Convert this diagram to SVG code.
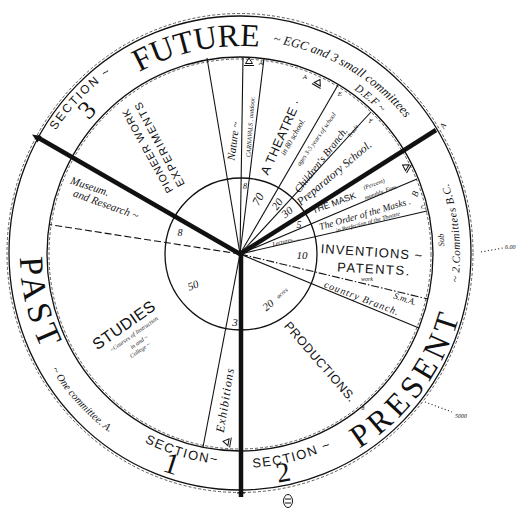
<svg xmlns="http://www.w3.org/2000/svg" width="518" height="512" viewBox="0 0 518 512">
<style>
.ln{stroke:#111;fill:none;stroke-width:1.1}
.th{stroke:#111;stroke-width:4.5;fill:none}
.rim{stroke:#111;fill:none;stroke-width:1.3}
.dash{stroke:#333;fill:none;stroke-width:0.8;stroke-dasharray:3 2}
.cap{font-family:"Liberation Sans",Arial,sans-serif;fill:#111}
.big{font-family:"Liberation Serif","Times New Roman",serif;fill:#111}
.hand{font-family:"Liberation Serif","Times New Roman",serif;font-style:italic;fill:#111}
.c{text-anchor:middle;dominant-baseline:central}
.sym{stroke:#111;fill:none;stroke-width:1}
</style>
<defs>
<path id="pSec3" d="M51.7,136.4 A222,222 0 0 1 129,61.7"/>
<path id="pFuture" d="M139.2,72.1 A208,208 0 0 1 265.4,47.6"/>
<path id="pEGC" d="M266.1,41.6 A214,214 0 0 1 417.4,134.3"/>
<path id="pDEF" d="M348.9,86.3 A200,200 0 0 1 393.2,125.4"/>
<path id="pPast" d="M20,250.2 A220,220 0 0 0 53.4,370.6"/>
<path id="pOne" d="M48.6,364.5 A221,221 0 0 0 136.2,449.1"/>
<path id="pSec1" d="M140.9,440.3 A211,211 0 0 0 240,465"/>
<path id="pSec2" d="M243.7,468 A214,214 0 0 0 340.5,443"/>
<path id="pPresent" d="M354,451.5 A228,228 0 0 0 465.8,285.7"/>
<path id="pSub" d="M457.3,288.4 A220,220 0 0 0 436,154.1"/>
<g id="tri"><path class="sym" d="M-3.5,1.5 L0,-4 L3.5,1.5 Z M-5,3.5 H5"/></g>
</defs>
<rect width="518" height="512" fill="#fff"/>

<g id="rings">
<ellipse class="rim" cx="240" cy="253" rx="231" ry="237"/>
<ellipse class="dash" cx="240" cy="253" rx="233" ry="239.5"/>
<ellipse class="rim" cx="240" cy="254" rx="193" ry="197"/>
<ellipse class="dash" cx="240" cy="254" rx="191" ry="195"/>
<circle class="rim" cx="241" cy="254" r="76"/>
</g>

<g id="connectors">
<line class="ln" x1="240" y1="254" x2="207" y2="58"/>
<line class="ln" x1="240" y1="254" x2="243" y2="57"/>
<line class="ln" x1="240" y1="254" x2="264" y2="58.5"/>
<line class="ln" x1="240" y1="254" x2="338" y2="85"/>
<line class="ln" x1="240" y1="254" x2="371" y2="112"/>
<line class="ln" x1="240" y1="254" x2="417" y2="179"/>
<line class="ln" x1="240" y1="254" x2="427" y2="211"/>
<line class="ln" x1="240" y1="254" x2="428" y2="299" stroke-dasharray="8 2 1.5 2"/>
<line class="ln" x1="240" y1="254" x2="419" y2="328"/>
<line class="ln" x1="240" y1="254" x2="203" y2="447"/>
<line class="ln" x1="240" y1="254" x2="49" y2="224.5" stroke-dasharray="7 3"/>
<line class="th" x1="240" y1="254" x2="37" y2="137"/>
<path d="M32,134.5 L41.5,136 L37.5,142.5 Z" fill="#111"/>
<line class="th" x1="240" y1="254" x2="436" y2="130"/>
<line class="th" x1="241" y1="254" x2="241" y2="497"/>
<line class="ln" x1="237" y1="493" x2="245" y2="493"/>
<line class="ln" x1="481" y1="252" x2="503" y2="248" stroke-dasharray="1 2.5"/>
<line class="ln" x1="425" y1="402" x2="452" y2="412" stroke-dasharray="1 2.5"/>
</g>

<g id="future">
<text class="cap" font-size="12" letter-spacing="2"><textPath href="#pSec3" startOffset="7">SECTION ~</textPath></text>
<text class="big" font-size="32"><textPath href="#pFuture" startOffset="0">FUTURE</textPath></text>
<text class="hand" font-size="12.5"><textPath href="#pEGC" startOffset="7">~ EGC and 3 small committees</textPath></text>
<text class="hand" font-size="11"><textPath href="#pDEF" startOffset="6">D.E.F ~</textPath></text>
<text class="big c" font-size="26" transform="translate(87,110) rotate(-46)">3</text>
<text class="hand c" font-size="8" transform="translate(443,126) rotate(-60)">A</text>
</g>

<g id="past">
<text class="big" font-size="34" letter-spacing="5"><textPath href="#pPast" startOffset="7">PAST</textPath></text>
<text class="hand" font-size="10.5"><textPath href="#pOne" startOffset="6">~ One committee. A.</textPath></text>
<text class="cap" font-size="13" letter-spacing="1.5"><textPath href="#pSec1" startOffset="4">SECTION~</textPath></text>
<text class="big c" font-size="30" transform="translate(172,463) rotate(18)">1</text>
</g>

<g id="present">
<text class="cap" font-size="13" letter-spacing="1.5"><textPath href="#pSec2" startOffset="9">SECTION ~</textPath></text>
<text class="big c" font-size="28" transform="translate(283,472) rotate(-11)">2</text>
<text class="big" font-size="32" letter-spacing="5"><textPath href="#pPresent" startOffset="6">PRESENT</textPath></text>
<text class="hand" font-size="11" letter-spacing="0.5"><textPath href="#pSub" startOffset="6">~ 2.Committees  B.C.</textPath></text>
<text class="hand c" font-size="8.5" transform="translate(441,240) rotate(-93)">Sub</text>
</g>

<g id="pioneer">
<text class="cap c" font-size="11" letter-spacing="1.5" transform="translate(159,144) rotate(-118)">EXPERIMENTS</text>
<text class="cap c" font-size="10.5" letter-spacing="1" transform="translate(147,151) rotate(-119)">PIONEER WORK</text>
</g>

<g id="museum">
<text class="hand c" font-size="11" transform="translate(90,186) rotate(18)">Museum.</text>
<text class="hand c" font-size="11" transform="translate(106,204) rotate(20)">and Research ~</text>
<text class="hand c" font-size="10" x="180" y="232">8</text>
</g>

<g id="studies">
<text class="cap c" font-size="16" letter-spacing="0.5" transform="translate(124,325) rotate(-35)">STUDIES</text>
<text class="hand c" font-size="6" transform="translate(134,334) rotate(-35)">~Courses of Instruction</text>
<text class="hand c" font-size="6" transform="translate(139,342) rotate(-35)">in and ~</text>
<text class="hand c" font-size="6" transform="translate(140,350) rotate(-35)">College ~</text>
<text class="hand c" font-size="11" transform="translate(193,285) rotate(-20)">50</text>
</g>

<g id="exhibitions">
<text class="hand c" font-size="12" letter-spacing="1" transform="translate(225,400) rotate(-81)">Exhibitions</text>
<use href="#tri" transform="translate(227,442) rotate(-80)"/>
<text class="hand c" font-size="11" x="235" y="322">3</text>
</g>

<g id="nature">
<text class="hand c" font-size="11" transform="translate(233,141) rotate(-83)">Nature ~</text>
</g>

<g id="carnivals">
<text class="hand c" font-size="6.5" transform="translate(250,127) rotate(-86)">CARNAVALS . outdoor.</text>
<text class="hand c" font-size="8" x="245" y="186">8</text>
<use href="#tri" transform="translate(249,62)"/>
<text class="hand c" font-size="7" x="261" y="63">A</text>
</g>

<g id="theatre">
<text class="cap c" font-size="12.5" letter-spacing="0.5" transform="translate(281,137) rotate(-66)">A THEATRE ·</text>
<text class="hand c" font-size="8" transform="translate(293,137) rotate(-60)">in 80 school.</text>
<text class="hand c" font-size="12" transform="translate(258,199) rotate(-62)">70</text>
<text class="hand c" font-size="7" x="305" y="77">A</text>
<use href="#tri" transform="translate(318,83) rotate(30)"/>
</g>

<g id="children">
<text class="hand c" font-size="6.5" transform="translate(316,139) rotate(-55)">ages 3-5 years of school</text>
<text class="hand c" font-size="10.5" transform="translate(321,160) rotate(-52)">Children's Branch.</text>
<text class="hand c" font-size="6" transform="translate(353,131) rotate(-55)">Trade</text>
<text class="hand c" font-size="11" transform="translate(277,204) rotate(-55)">20</text>
<text class="hand c" font-size="7" x="340" y="94">E</text>
</g>

<g id="preparatory">
<text class="hand c" font-size="11.5" transform="translate(334,173) rotate(-40)">Preparatory School.</text>
<text class="hand c" font-size="11" transform="translate(287,212) rotate(-40)">30</text>
<text class="hand c" font-size="7" x="371" y="121">F</text>
<use href="#tri" transform="translate(406,167) rotate(-60)"/>
</g>

<g id="mask">
<text class="cap c" font-size="9" transform="translate(334,203) rotate(-20)">THE MASK</text>
<text class="hand c" font-size="6" transform="translate(374,184) rotate(-20)">(Percent)</text>
<text class="hand c" font-size="6" transform="translate(381,192) rotate(-20)">monthly. Fam.</text>
<text class="hand c" font-size="10" x="299" y="224">5</text>
<text class="hand c" font-size="9" transform="translate(415,194) rotate(-70)">B</text>
</g>

<g id="order">
<text class="hand c" font-size="9.5" transform="translate(365,214) rotate(-16)">The Order of the Masks .</text>
<text class="hand c" font-size="6" transform="translate(368,222) rotate(-15)">in Perfection of the Theatre</text>
<text class="hand c" font-size="6" transform="translate(286,241) rotate(-14)">Lectures.....</text>
<text class="hand c" font-size="7" x="423" y="207">C</text>
</g>

<g id="inventions">
<text class="cap c" font-size="13" letter-spacing="1" transform="translate(372,252) rotate(4)">INVENTIONS ~</text>
<text class="cap c" font-size="13" letter-spacing="1.5" transform="translate(374,269) rotate(3)">PATENTS.</text>
<text class="hand c" font-size="6" x="367" y="279">work</text>
<text class="hand c" font-size="11" x="302" y="255">10</text>
</g>

<g id="country">
<text class="hand c" font-size="10" letter-spacing="1" transform="translate(362,298) rotate(21)">country Branch.</text>
<text class="hand c" font-size="9" transform="translate(405,299) rotate(18)">S.m.A.</text>
</g>

<g id="productions">
<text class="cap c" font-size="12.5" letter-spacing="0.5" transform="translate(320,362) rotate(49)">PRODUCTIONS.</text>
<text class="hand c" font-size="6" x="363" y="408">8</text>
<text class="hand c" font-size="11" transform="translate(268,305) rotate(-40)">20</text>
<text class="hand c" font-size="6" transform="translate(282,293) rotate(-40)">acres</text>
</g>

<g id="notes">
<text class="hand" font-size="6" x="505" y="249">6.00</text>
<text class="hand" font-size="6" x="455" y="418">5000</text>
<ellipse class="sym" cx="288" cy="501" rx="4.5" ry="6.5"/>
<path class="sym" d="M285,499 H291 M285,503 H291"/>
</g>
</svg>
